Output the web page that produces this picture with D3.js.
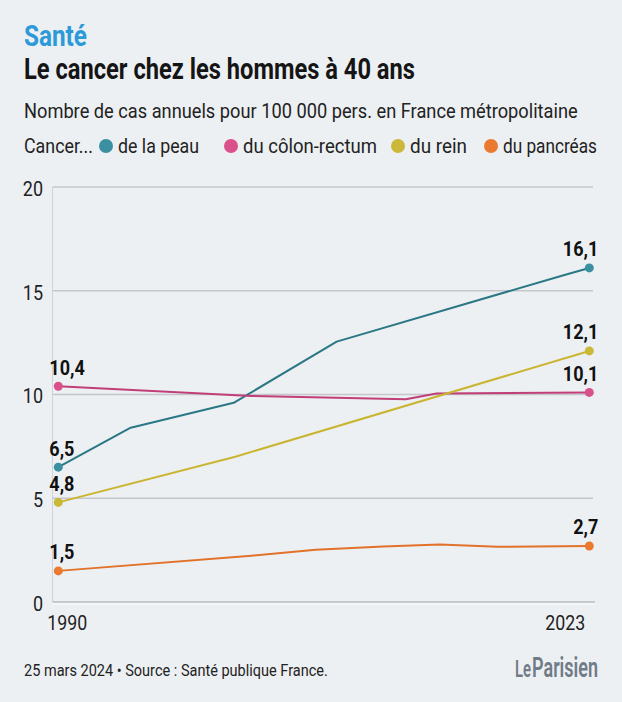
<!DOCTYPE html>
<html>
<head>
<meta charset="utf-8">
<script src="https://cdn.jsdelivr.net/npm/d3@7"></script>
<style>
  html, body { margin: 0; padding: 0; background: #edf0f3; }
  svg { display: block; }
  text { font-family: Roboto, "Noto Sans", sans-serif; }
</style>
</head>
<body>
<script>
// ---- data ----
const yTicks = [0, 5, 10, 15, 20];
const xTickLabels = [1990, 2023];
const seriesNames = ["de la peau", "du côlon-rectum", "du rein", "du pancréas"];
const seriesColors = ["#2a7885", "#c13f78", "#c9b530", "#e2722a"];
const dotColors = ["#3a8fa2", "#d9508a", "#cbb838", "#ea7a30"];

const skinYears = [1990, 1994.5, 2000.9, 2007.3, 2021.4, 2023];
const skinValues = [6.5, 8.4, 9.6, 12.55, 15.75, 16.1];
const colonYears = [1990, 2002, 2011.6, 2013.5, 2023];
const colonValues = [10.4, 9.93, 9.77, 10.05, 10.1];
const kidneyYears = [1990, 2001, 2023];
const kidneyValues = [4.8, 7.0, 12.1];
const pancreasYears = [1990, 2002, 2006, 2010.2, 2013.7, 2017.3, 2023];
const pancreasValues = [1.5, 2.23, 2.52, 2.67, 2.77, 2.66, 2.7];

const series = [
  {years: skinYears, values: skinValues},
  {years: colonYears, values: colonValues},
  {years: kidneyYears, values: kidneyValues},
  {years: pancreasYears, values: pancreasValues}
];

const W = 622, H = 702;
const svg = d3.select("body").append("svg").attr("width", W).attr("height", H);
svg.append("rect").attr("width", W).attr("height", H).attr("fill", "#edf0f3");

// condensed look: place text with a horizontal scale transform
function label(parent, x0, y0, str, size, opts) {
  const o = Object.assign({weight: 400, fill: "#222", width: null, ratio: 0.88, anchor: "start"}, opts || {});
  const t = parent.append("text").attr("x", 0).attr("y", 0)
    .attr("font-size", size).attr("font-weight", o.weight).attr("fill", o.fill)
    .attr("text-anchor", o.anchor).text(str);
  const len = t.node().getComputedTextLength();
  const r = o.width ? o.width / len : o.ratio;
  t.attr("transform", `translate(${x0},${y0}) scale(${r},1)`);
  return t;
}

// ---- header ----
label(svg, 24, 46, "Santé", 29, {weight: 700, fill: "#2c9ad8", width: 63});
label(svg, 24, 79, "Le cancer chez les hommes à 40 ans", 29, {weight: 700, fill: "#151515", width: 391});
label(svg, 24, 118, "Nombre de cas annuels pour 100 000 pers. en France métropolitaine", 20.5, {width: 554});

// legend
const legY = 153;
label(svg, 24, legY, "Cancer...", 21, {width: 69});
const legCircleX = [106, 231, 398, 491];
const legTextW = [81, 134, 57, 94];
seriesNames.forEach((n, i) => {
  svg.append("circle").attr("cx", legCircleX[i]).attr("cy", legY - 7).attr("r", 7).attr("fill", dotColors[i]);
  label(svg, legCircleX[i] + 12, legY, n, 21, {width: legTextW[i]});
});

// ---- scales ----
const x = d3.scaleLinear().domain([1990, 2023]).range([58.3, 589.3]);
const y = d3.scaleLinear().domain([0, 20]).range([602, 187]);

// gridlines
const grid = svg.append("g");
grid.selectAll("line.g").data(yTicks.filter(d => d > 0)).join("line")
  .attr("x1", 52.5).attr("x2", 593).attr("y1", d => y(d)).attr("y2", d => y(d))
  .attr("stroke", "#c3c7cc").attr("stroke-width", 1.5);
grid.append("line").attr("x1", 52.5).attr("x2", 52.5).attr("y1", y(20)).attr("y2", y(0))
  .attr("stroke", "#cfd3d8").attr("stroke-width", 1);
grid.append("line").attr("x1", 52.5).attr("x2", 595).attr("y1", y(0)).attr("y2", y(0))
  .attr("stroke", "#b9bec4").attr("stroke-width", 1.5);
grid.append("line").attr("x1", 52.5).attr("x2", 595).attr("y1", y(0) + 2).attr("y2", y(0) + 2)
  .attr("stroke", "#f7f9fa").attr("stroke-width", 1.5);

// y tick labels
const yAxis = d3.axisLeft(y).tickValues(yTicks).tickSize(0).tickPadding(0).tickFormat(d3.format("d"));
const ya = svg.append("g").attr("transform", "translate(43,2)").call(yAxis);
ya.select(".domain").remove();
ya.selectAll("text").attr("font-size", 20).attr("fill", "#222")
  .style("font-family", 'Roboto, "Noto Sans", sans-serif')
  .attr("transform", "scale(0.9,1)");

// x labels
label(svg, x(xTickLabels[0]) - 11, 630, String(xTickLabels[0]), 20, {width: 40});
label(svg, x(xTickLabels[1]) - 4, 630, String(xTickLabels[1]), 20, {width: 40, anchor: "end"});

// ---- lines ----
const fr = d3.formatLocale({decimal: ",", thousands: " ", grouping: [3], currency: ["", "€"]});
const fmt = fr.format(".1f");
const line = d3.line().x(d => x(d[0])).y(d => y(d[1]));
const gLines = svg.append("g");
series.forEach((s, i) => {
  const pts = s.years.map((yr, k) => [yr, s.values[k]]);
  gLines.append("path").attr("d", line(pts)).attr("fill", "none")
    .attr("stroke", seriesColors[i]).attr("stroke-width", 2).attr("stroke-linejoin", "round");
});
series.forEach((s, i) => {
  const n = s.years.length;
  [[s.years[0], s.values[0], "start", -9], [s.years[n - 1], s.values[n - 1], "end", 9]].forEach(p => {
    gLines.append("circle").attr("cx", x(p[0])).attr("cy", y(p[1])).attr("r", 4.5).attr("fill", dotColors[i]);
    label(gLines, x(p[0]) + p[3], y(p[1]) - 11.5, fmt(p[1]), 21,
      {weight: 700, fill: "#111", ratio: 0.86, anchor: p[2]});
  });
});

// ---- footer ----
label(svg, 24, 676, "25 mars 2024 • Source : Santé publique France.", 17, {width: 304});
label(svg, 515, 677, "Le", 23, {weight: 600, fill: "#6f7b87", width: 16});
label(svg, 532, 677, "Parisien", 28, {weight: 600, fill: "#6f7b87", width: 66});
</script>
</body>
</html>
